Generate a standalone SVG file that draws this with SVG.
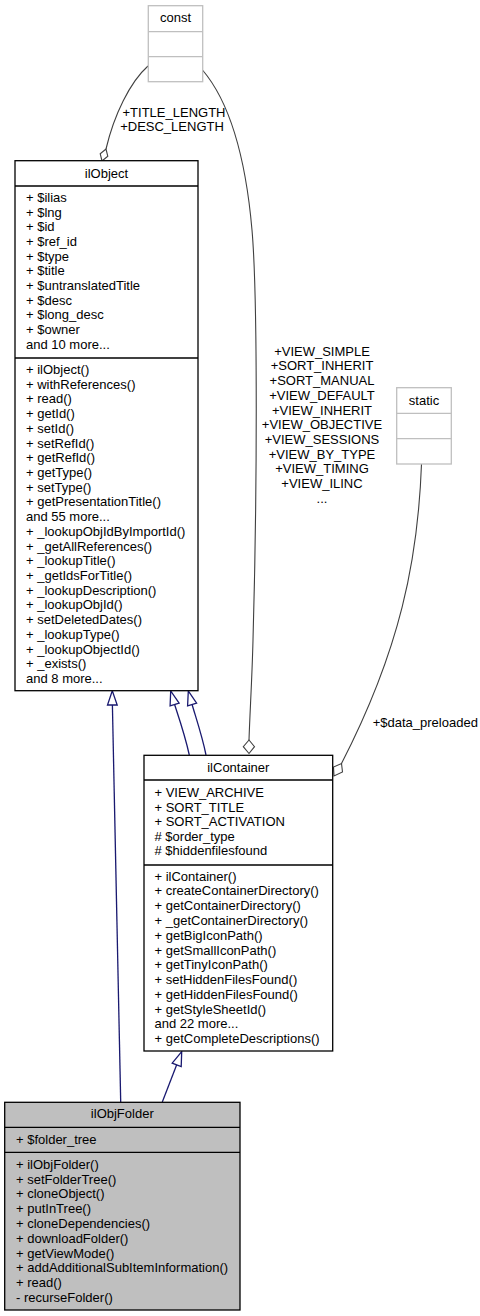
<svg xmlns="http://www.w3.org/2000/svg" width="480" height="1316" viewBox="0 0 480 1316">
<style>
text{font-family:"Liberation Sans",Arial,Helvetica,sans-serif;font-size:13px;fill:#000}
.c{text-anchor:middle}
.box{fill:#fff;stroke:#000;stroke-width:1.3}
.gbox{fill:#fff;stroke:#bfbfbf;stroke-width:1.3}
.cur{fill:#bfbfbf;stroke:#000;stroke-width:1.3}
.div{stroke:#000;stroke-width:1.3}
.gdiv{stroke:#bfbfbf;stroke-width:1.3}
.agg{fill:none;stroke:#404040;stroke-width:1.1}
.dia{fill:#fff;stroke:#404040;stroke-width:1.1}
.inh{fill:none;stroke:#191970;stroke-width:1.3}
.tri{fill:#fff;stroke:#191970;stroke-width:1.3}
</style>
<rect width="480" height="1316" fill="#fff"/>

<g id="edges">
  <!-- const -> ilObject -->
  <path class="agg" d="M148,66 C130,82 114,115 106,149"/>
  <polygon class="dia" points="102,161 100.2,153.7 106,149 107.8,156.3"/>
  <text class="c" x="174" y="117">+TITLE_LENGTH</text>
  <text class="c" x="172" y="131.4">+DESC_LENGTH</text>
  <!-- const -> ilContainer -->
  <path class="agg" d="M202.5,70 C228,100 245,150 252,230 C258,300 257,500 253,640 C252,680 250,710 249,740"/>
  <polygon class="dia" points="249,753.5 243.3,746.7 249,740 254.5,746.7"/>
  <text class="c" x="322" y="355.7">+VIEW_SIMPLE</text>
  <text class="c" x="322" y="370.4">+SORT_INHERIT</text>
  <text class="c" x="322" y="385.1">+SORT_MANUAL</text>
  <text class="c" x="322" y="399.8">+VIEW_DEFAULT</text>
  <text class="c" x="322" y="414.5">+VIEW_INHERIT</text>
  <text class="c" x="322" y="429.2">+VIEW_OBJECTIVE</text>
  <text class="c" x="322" y="443.9">+VIEW_SESSIONS</text>
  <text class="c" x="322" y="458.6">+VIEW_BY_TYPE</text>
  <text class="c" x="322" y="473.3">+VIEW_TIMING</text>
  <text class="c" x="322" y="488">+VIEW_ILINC</text>
  <text class="c" x="322" y="502.7">...</text>
  <!-- static -> ilContainer -->
  <path class="agg" d="M421.5,464 C418,560 400,650 341.5,763.5"/>
  <polygon class="dia" points="334,776 333.5,767 341.5,763.5 342.5,772"/>
  <text x="372.7" y="727.4">+$data_preloaded</text>
  <!-- ilObjFolder -> ilObject -->
  <path class="inh" d="M120.7,1102 L112.4,705"/>
  <polygon class="tri" points="112.3,690.7 107.5,705 117.2,705"/>
  <!-- ilContainer -> ilObject (x2) -->
  <path class="inh" d="M189.3,755 C185,735 178,715 174.6,704.5"/>
  <polygon class="tri" points="170.7,691 170.1,705.8 179.1,703.2"/>
  <path class="inh" d="M206,755 C202,735 195,715 192.1,704.5"/>
  <polygon class="tri" points="188.3,691 187.6,705.8 196.6,703.2"/>
  <!-- ilObjFolder -> ilContainer -->
  <path class="inh" d="M162.3,1102 L176.7,1064.8"/>
  <polygon class="tri" points="181.7,1051.7 172.2,1063.1 181.2,1066.5"/>
</g>

<g id="const">
  <rect class="gbox" x="148.3" y="5.7" width="54.4" height="76"/>
  <line class="gdiv" x1="148.3" y1="31.7" x2="202.7" y2="31.7"/>
  <line class="gdiv" x1="148.3" y1="56.7" x2="202.7" y2="56.7"/>
  <text class="c" x="175.5" y="22">const</text>
</g>

<g id="static">
  <rect class="gbox" x="396.7" y="387.7" width="54.6" height="76.3"/>
  <line class="gdiv" x1="396.7" y1="413.3" x2="451.3" y2="413.3"/>
  <line class="gdiv" x1="396.7" y1="438.7" x2="451.3" y2="438.7"/>
  <text class="c" x="424" y="404.7">static</text>
</g>

<g id="ilObject">
  <rect class="box" x="15" y="160.7" width="183" height="530"/>
  <line class="div" x1="15" y1="186" x2="198" y2="186"/>
  <line class="div" x1="15" y1="358" x2="198" y2="358"/>
  <text class="c" x="106.5" y="177.8">ilObject</text>
  <text x="26" y="201.8">+ $ilias</text>
  <text x="26" y="216.5">+ $lng</text>
  <text x="26" y="231.2">+ $id</text>
  <text x="26" y="245.9">+ $ref_id</text>
  <text x="26" y="260.6">+ $type</text>
  <text x="26" y="275.3">+ $title</text>
  <text x="26" y="290">+ $untranslatedTitle</text>
  <text x="26" y="304.7">+ $desc</text>
  <text x="26" y="319.4">+ $long_desc</text>
  <text x="26" y="334.1">+ $owner</text>
  <text x="26" y="348.8">and 10 more...</text>
  <text x="26" y="374">+ ilObject()</text>
  <text x="26" y="388.7">+ withReferences()</text>
  <text x="26" y="403.4">+ read()</text>
  <text x="26" y="418.1">+ getId()</text>
  <text x="26" y="432.8">+ setId()</text>
  <text x="26" y="447.6">+ setRefId()</text>
  <text x="26" y="462.3">+ getRefId()</text>
  <text x="26" y="477">+ getType()</text>
  <text x="26" y="491.7">+ setType()</text>
  <text x="26" y="506.4">+ getPresentationTitle()</text>
  <text x="26" y="521.1">and 55 more...</text>
  <text x="26" y="535.8">+ _lookupObjIdByImportId()</text>
  <text x="26" y="550.5">+ _getAllReferences()</text>
  <text x="26" y="565.2">+ _lookupTitle()</text>
  <text x="26" y="579.9">+ _getIdsForTitle()</text>
  <text x="26" y="594.7">+ _lookupDescription()</text>
  <text x="26" y="609.4">+ _lookupObjId()</text>
  <text x="26" y="624.1">+ setDeletedDates()</text>
  <text x="26" y="638.8">+ _lookupType()</text>
  <text x="26" y="653.5">+ _lookupObjectId()</text>
  <text x="26" y="668.2">+ _exists()</text>
  <text x="26" y="682.9">and 8 more...</text>
</g>

<g id="ilContainer">
  <rect class="box" x="144" y="755.3" width="188.7" height="295.7"/>
  <line class="div" x1="144" y1="780" x2="332.7" y2="780"/>
  <line class="div" x1="144" y1="865" x2="332.7" y2="865"/>
  <text class="c" x="238.3" y="772">ilContainer</text>
  <text x="154.5" y="797.4">+ VIEW_ARCHIVE</text>
  <text x="154.5" y="811.9">+ SORT_TITLE</text>
  <text x="154.5" y="826.4">+ SORT_ACTIVATION</text>
  <text x="154.5" y="840.9"># $order_type</text>
  <text x="154.5" y="855.4"># $hiddenfilesfound</text>
  <text x="154.5" y="880.7">+ ilContainer()</text>
  <text x="154.5" y="895.4">+ createContainerDirectory()</text>
  <text x="154.5" y="910.2">+ getContainerDirectory()</text>
  <text x="154.5" y="924.9">+ _getContainerDirectory()</text>
  <text x="154.5" y="939.7">+ getBigIconPath()</text>
  <text x="154.5" y="954.5">+ getSmallIconPath()</text>
  <text x="154.5" y="969.2">+ getTinyIconPath()</text>
  <text x="154.5" y="984">+ setHiddenFilesFound()</text>
  <text x="154.5" y="998.7">+ getHiddenFilesFound()</text>
  <text x="154.5" y="1013.5">+ getStyleSheetId()</text>
  <text x="154.5" y="1028.2">and 22 more...</text>
  <text x="154.5" y="1043">+ getCompleteDescriptions()</text>
</g>

<g id="ilObjFolder">
  <rect class="cur" x="4.7" y="1102.3" width="235.3" height="207.7"/>
  <line class="div" x1="4.7" y1="1127.3" x2="240" y2="1127.3"/>
  <line class="div" x1="4.7" y1="1152.3" x2="240" y2="1152.3"/>
  <text class="c" x="122.3" y="1118">ilObjFolder</text>
  <text x="16" y="1143.7">+ $folder_tree</text>
  <text x="16" y="1168.7">+ ilObjFolder()</text>
  <text x="16" y="1183.5">+ setFolderTree()</text>
  <text x="16" y="1198.3">+ cloneObject()</text>
  <text x="16" y="1213.1">+ putInTree()</text>
  <text x="16" y="1227.9">+ cloneDependencies()</text>
  <text x="16" y="1242.7">+ downloadFolder()</text>
  <text x="16" y="1257.5">+ getViewMode()</text>
  <text x="16" y="1272.3">+ addAdditionalSubItemInformation()</text>
  <text x="16" y="1287.1">+ read()</text>
  <text x="16" y="1301.9">- recurseFolder()</text>
</g>
</svg>
